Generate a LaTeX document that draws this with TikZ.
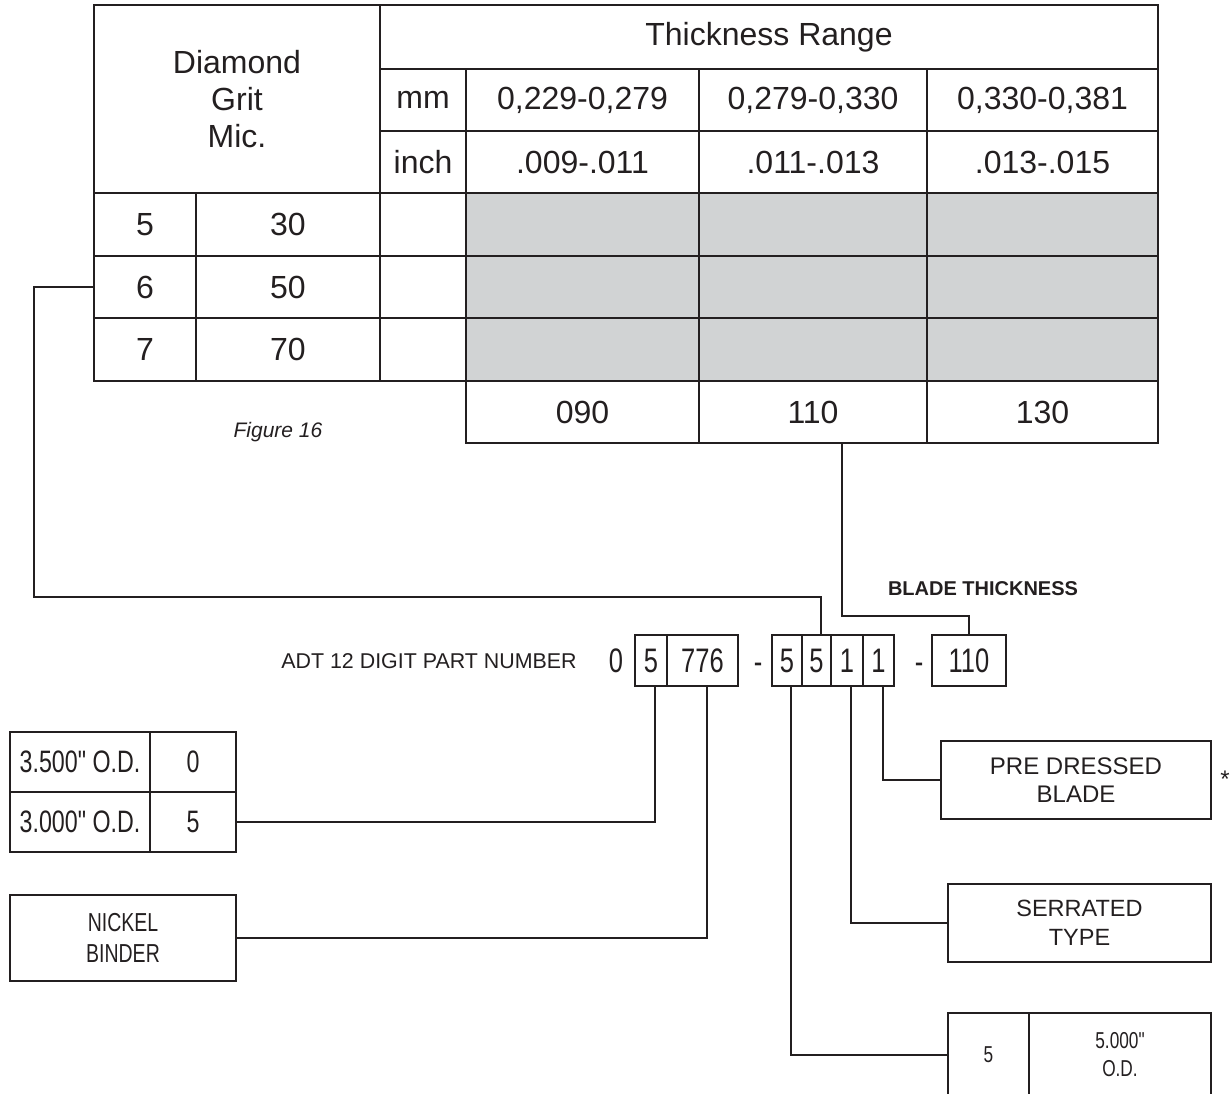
\documentclass[tikz,border=0pt]{standalone}
\usepackage{fontspec}
\setmainfont{Liberation Sans}
\newfontfamily\narrowfont[FakeStretch=0.75]{Liberation Sans}
\usetikzlibrary{calc}
\definecolor{ink}{HTML}{231F20}
\definecolor{cellgray}{HTML}{D1D3D4}
\tikzset{
  cellspan/.style n args={4}{minimum width={(#3-#1)*0.5pt},minimum height={(#4-#2)*0.5pt},
               at={({(#1+#3)/2},{(#2+#4)/2})}},
  cell/.style={draw=ink,line width=1.2pt,inner sep=0pt,align=center,
               text=ink,font=\fontsize{16}{18.5}\selectfont},
  shaded/.style={cell,fill=cellgray},
  tagbox/.style={draw=ink,line width=1pt,inner sep=0pt,align=center,
                 text=ink,font=\fontsize{11.75}{14.5}\selectfont},
  narrowbox/.style={tagbox,font=\narrowfont\fontsize{15.5}{18}\selectfont},
  smallnarrow/.style={tagbox,font=\narrowfont\fontsize{11.5}{14}\selectfont},
  digitbox/.style={draw=ink,line width=1pt,inner sep=0pt,text=ink,
                   font=\narrowfont\fontsize{17}{20}\selectfont},
  digittext/.style={text=ink,inner sep=0pt,anchor=base,font=\narrowfont\fontsize{17}{20}\selectfont},
  conn/.style={draw=ink,line width=1pt}
}

\begin{document}
\begin{tikzpicture}[x=0.5pt,y=-0.5pt]
  \useasboundingbox (0,0) rectangle (1232,1093);
  % grit / thickness table
  \node[cell,cellspan={94}{5}{380}{193}] (grithead) {Diamond\\Grit\\Mic.};
  \node[cell,cellspan={380}{5}{1158}{69}] (rangehead) {Thickness Range};
  \node[cell,cellspan={380}{69}{466}{131}] (mmhead) {mm};
  \node[cell,cellspan={380}{131}{466}{193}] (inchhead) {inch};
  \foreach \i/\xa/\xb/\mm/\inch/\code in {1/466/699/{0,229-0,279}/.009-.011/090,
      2/699/927/{0,279-0,330}/.011-.013/110, 3/927/1158/{0,330-0,381}/.013-.015/130} {
    \node[cell,cellspan={\xa}{69}{\xb}{131}] (mm\i) {\mm};
    \node[cell,cellspan={\xa}{131}{\xb}{193}] (inch\i) {\inch};
    \node[cell,cellspan={\xa}{381}{\xb}{443}] (code\i) {\code};
  }
  \foreach \g/\mic/\ya/\yb in {5/30/193/256, 6/50/256/318, 7/70/318/381} {
    \node[cell,cellspan={94}{\ya}{196}{\yb}] (grit\g) {\g};
    \node[cell,cellspan={196}{\ya}{380}{\yb}] (mic\g) {\mic};
    \node[cell,cellspan={380}{\ya}{466}{\yb}] (blank\g) {};
    \foreach \xa/\xb [count=\j] in {466/699, 699/927, 927/1158}
      \node[shaded,cellspan={\xa}{\ya}{\xb}{\yb}] (fill\g\j) {};
  }
  \node[text=ink,font=\itshape\fontsize{10.5}{12}\selectfont] (figcap) at (278,432) {Figure 16};

  % part number
  \node[text=ink,font=\fontsize{10.7}{12}\selectfont] (ptitle) at (429,661) {ADT 12 DIGIT PART NUMBER};
  \node[digittext] (lead) at (616,672) {0};
  \foreach \name/\xa/\xb/\val in {d1/635/667/5, d2/667/738/776, d3/772/802/5, d4/802/831/5,
      d5/831/863/1, d6/863/894/1, d7/932/1006/110}
    \node[digitbox,cellspan={\xa}{635}{\xb}{686}] (\name) {\val};
  \node[digittext] (dash1) at (758,673) {-};
  \node[digittext] (dash2) at (919,673) {-};
  \node[text=ink,font=\bfseries\fontsize{10}{12}\selectfont] (bladelbl) at (983,589) {BLADE THICKNESS};

  % option boxes
  \node[narrowbox,cellspan={10}{732}{150}{792}] (od35) {3.500" O.D.};
  \node[narrowbox,cellspan={150}{732}{236}{792}] (od35code) {0};
  \node[narrowbox,cellspan={10}{792}{150}{852}] (od30) {3.000" O.D.};
  \node[narrowbox,cellspan={150}{792}{236}{852}] (od30code) {5};
  \node[tagbox,font=\narrowfont\fontsize{13}{15.5}\selectfont,cellspan={10}{895}{236}{981}] (nickel) {NICKEL\\BINDER};
  \node[tagbox,font=\fontsize{12}{14}\selectfont,cellspan={941}{741}{1211}{819}] (predress) {PRE DRESSED\\BLADE};
  \node[text=ink,font=\fontsize{12}{14}\selectfont] (star) at (1225,779) {*};
  \node[tagbox,cellspan={948}{884}{1211}{962}] (serrated) {SERRATED\\TYPE};
  \node[smallnarrow,cellspan={948}{1013}{1029}{1097}] (dia5) {5};
  \node[smallnarrow,cellspan={1029}{1013}{1211}{1097}] (dia5od) {5.000"\\O.D.};

  % connectors
  \draw[conn] (grit6.west) -| (34,597) -| ([xshift=2pt]d4.north);
  \draw[conn] ([xshift=14.5pt]code2.south) |- ($(d7.north)+(0,-18)$) -- (d7.north);
  \draw[conn] ([xshift=2pt]d1.south) |- (od30code.east);
  \draw[conn] ([xshift=2pt]d2.south) |- (nickel.east);
  \draw[conn] ([xshift=2pt]d3.south) |- (dia5.west);
  \draw[conn] ([xshift=2pt]d5.south) |- (serrated.west);
  \draw[conn] ([xshift=2pt]d6.south) |- (predress.west);
\end{tikzpicture}
\end{document}
